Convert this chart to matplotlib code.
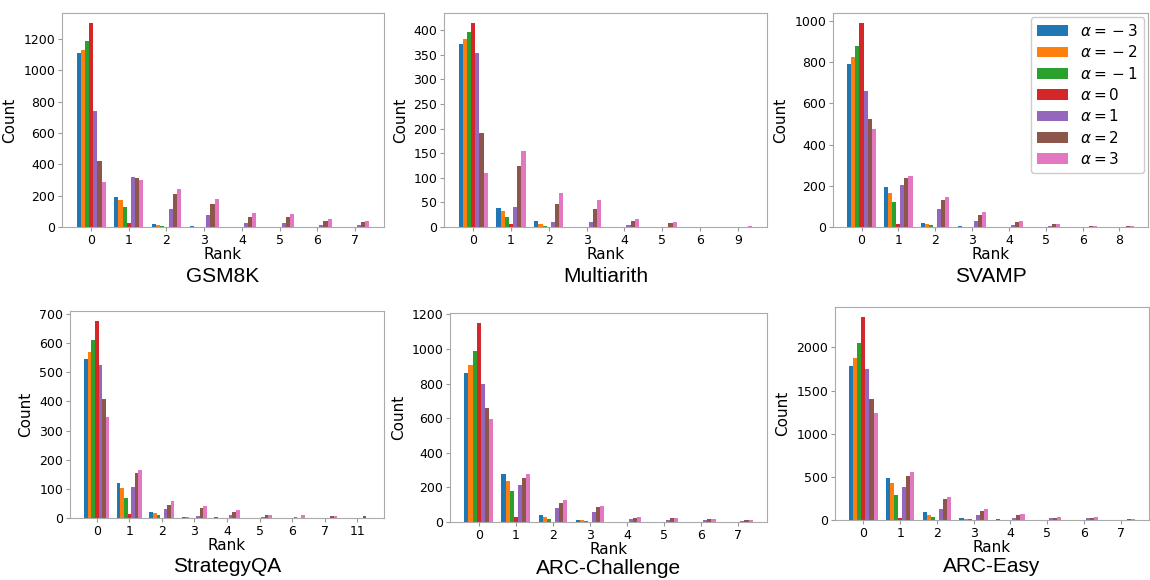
import numpy as np
import matplotlib
matplotlib.use("Agg")
import matplotlib.pyplot as plt
from matplotlib.ticker import MultipleLocator

alphas = [-3, -2, -1, 0, 1, 2, 3]
alpha_labels = [r"$\alpha = {}-3$", r"$\alpha = {}-2$", r"$\alpha = {}-1$",
                r"$\alpha = 0$", r"$\alpha = 1$", r"$\alpha = 2$", r"$\alpha = 3$"]
colors = ["#1f77b4", "#ff7f0e", "#2ca02c", "#d62728", "#9467bd", "#8c564b", "#e377c2"]

# counts per rank, one row per alpha (-3 .. 3)
gsm8k_ranks = ["0", "1", "2", "3", "4", "5", "6", "7"]
gsm8k = [
    [1110, 190, 17, 4, 0, 0, 0, 0],
    [1130, 175, 13, 3, 0, 0, 0, 0],
    [1185, 126, 6, 3, 0, 0, 0, 0],
    [1300, 23, 0, 0, 0, 0, 0, 0],
    [740, 320, 113, 75, 25, 23, 10, 10],
    [420, 315, 211, 147, 64, 62, 40, 30],
    [285, 298, 243, 177, 90, 83, 49, 36],
]

multiarith_ranks = ["0", "1", "2", "3", "4", "5", "6", "9"]
multiarith = [
    [372, 38, 12, 0, 0, 0, 0, 0],
    [381, 33, 7, 0, 0, 0, 0, 0],
    [397, 21, 3, 0, 0, 0, 0, 0],
    [414, 7, 0, 0, 0, 0, 0, 1],
    [353, 40, 10, 11, 5, 1, 0, 1],
    [191, 124, 47, 36, 13, 9, 0, 1],
    [110, 154, 70, 54, 16, 11, 1, 2],
]

svamp_ranks = ["0", "1", "2", "3", "4", "5", "6", "8"]
svamp = [
    [790, 194, 18, 3, 2, 0, 0, 0],
    [825, 163, 13, 2, 0, 0, 0, 0],
    [877, 120, 8, 2, 0, 0, 0, 0],
    [990, 13, 0, 0, 0, 0, 0, 0],
    [663, 205, 86, 28, 10, 4, 2, 2],
    [524, 238, 129, 60, 23, 13, 7, 6],
    [476, 246, 147, 71, 27, 14, 7, 6],
]

strategyqa_ranks = ["0", "1", "2", "3", "4", "5", "6", "7", "11"]
strategyqa = [
    [544, 120, 21, 3, 2, 0, 0, 0, 0],
    [569, 103, 16, 2, 0, 0, 0, 0, 0],
    [612, 67, 10, 0, 0, 0, 0, 0, 0],
    [676, 14, 0, 0, 0, 0, 0, 0, 0],
    [525, 106, 30, 8, 10, 3, 2, 0, 1],
    [407, 155, 43, 33, 19, 9, 0, 6, 6],
    [345, 164, 60, 42, 28, 12, 9, 8, 0],
]

arc_c_ranks = ["0", "1", "2", "3", "4", "5", "6", "7"]
arc_c = [
    [858, 276, 38, 13, 0, 0, 0, 0],
    [906, 238, 27, 10, 0, 0, 0, 0],
    [988, 178, 15, 6, 0, 0, 0, 0],
    [1150, 31, 0, 0, 0, 0, 0, 0],
    [800, 211, 79, 58, 15, 13, 10, 8],
    [658, 255, 111, 84, 25, 23, 17, 13],
    [595, 278, 129, 94, 29, 23, 17, 13],
]

arc_e_ranks = ["0", "1", "2", "3", "4", "5", "6", "7"]
arc_e = [
    [1779, 484, 97, 19, 6, 5, 0, 0],
    [1876, 430, 62, 15, 5, 4, 0, 3],
    [2054, 291, 35, 8, 0, 0, 0, 0],
    [2350, 27, 0, 0, 0, 0, 0, 0],
    [1744, 384, 128, 58, 27, 23, 19, 5],
    [1403, 508, 240, 101, 62, 27, 23, 15],
    [1244, 558, 271, 124, 74, 31, 35, 15],
]

# name, ranks, counts, y tick step, axes box in pixels (l, r, t, b), title y
panels = [
    ("GSM8K", gsm8k_ranks, gsm8k, 200, (62, 384, 13, 227), 276),
    ("Multiarith", multiarith_ranks, multiarith, 50, (444, 767, 13, 227), 276),
    ("SVAMP", svamp_ranks, svamp, 200, (833, 1148, 13, 227), 276),
    ("StrategyQA", strategyqa_ranks, strategyqa, 100, (70, 384, 311, 518), 567),
    ("ARC-Challenge", arc_c_ranks, arc_c, 200, (450, 767, 313, 522), 568),
    ("ARC-Easy", arc_e_ranks, arc_e, 500, (835, 1149, 307, 520), 567),
]

W, H = 1150, 580
fig = plt.figure(figsize=(W / 100, H / 100), dpi=100)
width = 0.11

for name, ranks, counts, step, (l, r, t, b), ty in panels:
    ax = fig.add_axes([l / W, 1 - b / H, (r - l) / W, (b - t) / H])
    x = np.arange(len(ranks))
    for i in range(len(alphas)):
        ax.bar(x + (i - 3) * width, counts[i], width, color=colors[i],
               label=alpha_labels[i])
    ax.set_xticks(x)
    ax.set_xticklabels(ranks)
    ax.yaxis.set_major_locator(MultipleLocator(step))
    ax.tick_params(labelsize=9, color="#999999", length=3, pad=2)
    ax.set_xlabel("Rank", fontsize=11, labelpad=0)
    ax.set_ylabel("Count", fontsize=11, labelpad=4)
    for s in ax.spines.values():
        s.set_color("#aaaaaa")
    fig.text((l + r) / 2 / W, 1 - ty / H, name, ha="center", va="center",
             fontsize=15, family="Liberation Sans")
    if name == "SVAMP":
        ax.legend(loc="upper right", fontsize=11, labelspacing=0.35,
                  handlelength=2.0, borderaxespad=0.25, framealpha=1)

fig.savefig("out.png", dpi=100)
